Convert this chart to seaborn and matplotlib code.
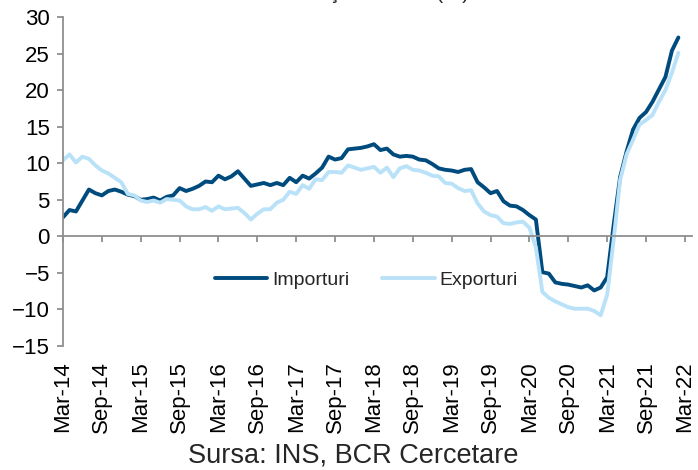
import numpy as np
import pandas as pd
import matplotlib
matplotlib.use("Agg")
import matplotlib.pyplot as plt
import seaborn as sns

# monthly yoy rates, Mar-14 .. Feb-22
importuri = [2.6, 3.6, 3.4, 4.9, 6.4, 5.9, 5.6, 6.2, 6.4, 6.1, 5.7, 5.5,
             5.0, 5.1, 5.3, 4.9, 5.4, 5.6, 6.6, 6.2, 6.5, 6.9, 7.5, 7.4,
             8.3, 7.8, 8.2, 8.9, 7.9, 6.9, 7.1, 7.3, 7.0, 7.3, 7.0, 8.0,
             7.4, 8.3, 7.9, 8.6, 9.4, 10.9, 10.5, 10.7, 11.9, 12.0, 12.1, 12.3,
             12.6, 11.8, 12.0, 11.2, 10.9, 11.0, 10.9, 10.5, 10.4, 9.9, 9.3, 9.1,
             9.0, 8.8, 9.1, 9.2, 7.4, 6.7, 5.9, 6.2, 4.8, 4.2, 4.1, 3.6,
             2.9, 2.3, -4.9, -5.1, -6.3, -6.5, -6.6, -6.8, -7.0, -6.7, -7.4, -7.0,
             -5.6, 1.5, 8.1, 11.6, 14.6, 16.2, 17.0, 18.4, 20.1, 21.8, 25.4, 27.2]
exporturi = [10.4, 11.2, 10.1, 10.9, 10.6, 9.7, 9.0, 8.6, 8.0, 7.4, 5.8, 5.6,
             4.9, 4.7, 4.9, 4.6, 5.1, 5.0, 4.9, 4.1, 3.7, 3.7, 4.0, 3.5,
             4.1, 3.7, 3.8, 3.9, 3.2, 2.3, 3.1, 3.7, 3.7, 4.6, 5.0, 6.1,
             5.8, 7.0, 6.5, 7.8, 7.7, 8.8, 8.8, 8.7, 9.7, 9.4, 9.1, 9.3,
             9.5, 8.7, 9.4, 8.1, 9.3, 9.6, 9.1, 9.0, 8.7, 8.3, 8.2, 7.3,
             7.2, 6.6, 6.2, 6.3, 4.5, 3.4, 2.9, 2.7, 1.8, 1.7, 1.9, 2.0,
             1.2, -1.5, -7.6, -8.4, -8.9, -9.3, -9.7, -9.9, -9.9, -9.9, -10.2, -10.8,
             -8.0, -0.5, 7.7, 11.2, 13.2, 15.3, 15.9, 16.6, 18.4, 20.0, 22.4, 25.1]
tick_labels = ["Mar-14", "Sep-14", "Mar-15", "Sep-15", "Mar-16", "Sep-16",
               "Mar-17", "Sep-17", "Mar-18", "Sep-18", "Mar-19", "Sep-19",
               "Mar-20", "Sep-20", "Mar-21", "Sep-21", "Mar-22"]

DARK = "#004B7D"
LIGHT = "#B9E2F8"
GREY = "#8f8f8f"

sns.set_theme(style="white")
plt.rcParams["font.family"] = ["Liberation Sans", "DejaVu Sans"]

df = pd.DataFrame({"luna": np.arange(len(importuri)),
                   "Importuri": importuri,
                   "Exporturi": exporturi})
df = df.melt(id_vars="luna", var_name="serie", value_name="val")

W, H = 698, 470
fig = plt.figure(figsize=(W / 100, H / 100), dpi=100)
ax = fig.add_axes([63 / W, 1 - 346 / H, (692 - 63) / W, (346 - 17) / H])

sns.lineplot(data=df, x="luna", y="val", hue="serie",
             hue_order=["Importuri", "Exporturi"],
             palette={"Importuri": DARK, "Exporturi": LIGHT},
             linewidth=2.8, ax=ax)

ax.set_ylim(-15, 30)
ax.set_xlim(0, 97.1)
ax.set_yticks(np.arange(-15, 31, 5))
ticks = np.arange(0, 6 * len(tick_labels), 6)
ax.set_xticks(ticks)
ax.set_xlabel("")
ax.set_ylabel("")

# x axis line sits at zero, labels stay below the plot
ax.spines["bottom"].set_position(("data", 0))
for s in ["top", "right"]:
    ax.spines[s].set_visible(False)
for s in ["left", "bottom"]:
    ax.spines[s].set_color(GREY)
    ax.spines[s].set_linewidth(1.3)
ax.tick_params(axis="x", bottom=True, labelbottom=False, direction="out",
               length=4.5, width=1.3, color=GREY)
ax.tick_params(axis="y", left=True, direction="out", length=4.5, width=1.3,
               color=GREY, labelsize=16, pad=5, labelcolor="black")

sec = ax.secondary_xaxis("bottom")
sec.set_xticks(ticks, tick_labels)
sec.tick_params(length=0, pad=11, labelsize=16, labelrotation=90,
                labelcolor="black")
sec.spines["bottom"].set_visible(False)

leg = ax.get_legend()
handles = leg.legend_handles
labels = [t.get_text() for t in leg.get_texts()]
for h in handles:
    h.set_linewidth(2.8)
ax.legend(handles, labels, loc="center", ncol=2, frameon=False, fontsize=14,
          bbox_to_anchor=(366.5 / W, 1 - 280 / H), bbox_transform=fig.transFigure,
          handlelength=2.7, handletextpad=0.25, columnspacing=1.7)

# title is cut off at the top edge in the reference
fig.text(368 / W, 1 + 1.4 / H, "Comerţul exterior (%)", ha="center",
         va="baseline", fontsize=15.3)
fig.text(353.5 / W, 1 - 463 / H, "Sursa: INS, BCR Cercetare", ha="center",
         va="baseline", fontsize=19.5)

fig.savefig("out.png", dpi=100)
